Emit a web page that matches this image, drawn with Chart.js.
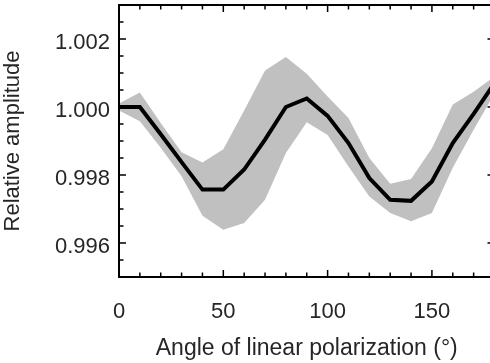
<!DOCTYPE html>
<html>
<head>
<meta charset="utf-8">
<script src="https://cdn.jsdelivr.net/npm/chart.js@4/dist/chart.umd.min.js"></script>
<style>
  html, body { margin: 0; padding: 0; background: #fff; overflow: hidden; width: 490px; height: 363px; }
  #wrap { width: 496px; height: 363px; position: relative; }
</style>
</head>
<body>
<div id="wrap"><canvas id="c" width="496" height="363"></canvas></div>
<script>
// Data
const angles = [0, 10, 20, 30, 40, 50, 60, 70, 80, 90, 100, 110, 120, 130, 140, 150, 160, 170, 180];
const meanAmp = [1.0000, 1.0000, 0.99920, 0.99838, 0.99757, 0.99757, 0.99816, 0.99904, 1.0000, 1.00025, 0.99974, 0.99894, 0.99791, 0.99727, 0.99724, 0.99781, 0.99894, 0.99980, 1.00070];
const upperAmp = [1.00010, 1.00043, 0.99953, 0.99867, 0.99837, 0.99876, 0.99990, 1.00107, 1.00147, 1.00098, 1.00031, 0.99968, 0.99850, 0.99774, 0.99788, 0.99879, 1.00007, 1.00045, 1.00090];
const lowerAmp = [0.99990, 0.99958, 0.99880, 0.99796, 0.99680, 0.99639, 0.99659, 0.99727, 0.99865, 0.99955, 0.99918, 0.99825, 0.99737, 0.99688, 0.99664, 0.99688, 0.99821, 0.99933, 1.00040];
const xTicks = [0, 50, 100, 150];
const yTicks = [0.996, 0.998, 1.000, 1.002];
const xRange = [0, 180];
const yRange = [0.995, 1.003];
const xMinorStep = 10;
const yMinorStep = 0.0005;

const pts = arr => angles.map((a, i) => ({ x: a, y: arr[i] }));
const FONT = "'Liberation Sans', Arial, Helvetica, sans-serif";
const TEXT = '#262626';

const framePlugin = {
  id: 'frame',
  afterDraw(chart) {
    const { ctx, chartArea: a, scales: { x, y } } = chart;
    ctx.save();
    ctx.strokeStyle = '#000';
    ctx.lineWidth = 1.5;
    const major = 7, minor = 4.5;
    ctx.beginPath();
    for (let v = xRange[0]; v <= xRange[1] + 1e-9; v += xMinorStep) {
      const px = x.getPixelForValue(v);
      const len = xTicks.includes(Math.round(v)) ? major : minor;
      ctx.moveTo(px, a.bottom); ctx.lineTo(px, a.bottom - len);
      ctx.moveTo(px, a.top); ctx.lineTo(px, a.top + len);
    }
    const n = Math.round((yRange[1] - yRange[0]) / yMinorStep);
    for (let k = 0; k <= n; k++) {
      const v = yRange[0] + k * yMinorStep;
      const py = y.getPixelForValue(v);
      const isMajor = yTicks.some(t => Math.abs(t - v) < 1e-7);
      const len = isMajor ? major : minor;
      ctx.moveTo(a.left, py); ctx.lineTo(a.left + len, py);
      ctx.moveTo(a.right, py); ctx.lineTo(a.right - len, py);
    }
    ctx.stroke();
    ctx.lineWidth = 2;
    ctx.strokeRect(a.left, a.top, a.right - a.left, a.bottom - a.top);
    ctx.restore();
  }
};

const zeroPad = s => { s.paddingTop = 0; s.paddingBottom = 0; s.paddingLeft = 0; s.paddingRight = 0; };

new Chart(document.getElementById('c'), {
  type: 'line',
  data: {
    datasets: [
      { data: pts(lowerAmp), borderWidth: 0, borderColor: 'rgba(0,0,0,0)', pointRadius: 0, fill: false, order: 2 },
      { data: pts(upperAmp), borderWidth: 0, borderColor: 'rgba(0,0,0,0)', pointRadius: 0, fill: '-1', backgroundColor: '#c0c0c0', order: 1 },
      { data: pts(meanAmp), borderWidth: 4, borderColor: '#000', pointRadius: 0, fill: false, order: -1 }
    ]
  },
  options: {
    responsive: false,
    animation: false,
    events: [],
    layout: { padding: { top: 5, right: 1.5, left: 0, bottom: 0 } },
    plugins: { legend: { display: false }, tooltip: { enabled: false } },
    elements: { line: { tension: 0 } },
    scales: {
      x: {
        type: 'linear', min: xRange[0], max: xRange[1],
        grid: { display: false, drawTicks: false },
        border: { display: false },
        afterBuildTicks: s => { s.ticks = xTicks.map(v => ({ value: v })); },
        afterFit: s => { s.height = 86; zeroPad(s); },
        ticks: { color: TEXT, font: { family: FONT, size: 22 }, padding: 22, maxRotation: 0, autoSkip: false },
        title: { display: true, text: 'Angle of linear polarization (°)', color: TEXT, font: { family: FONT, size: 23 }, padding: { top: 0, bottom: 1 } }
      },
      y: {
        type: 'linear', min: yRange[0], max: yRange[1],
        grid: { display: false, drawTicks: false },
        border: { display: false },
        afterBuildTicks: s => { s.ticks = yTicks.map(v => ({ value: v })); },
        afterFit: s => { s.width = 119; zeroPad(s); },
        ticks: { color: TEXT, font: { family: FONT, size: 22 }, padding: 9, labelOffset: 4, autoSkip: false, callback: v => v.toFixed(3) },
        title: { display: true, text: 'Relative amplitude', color: TEXT, font: { family: FONT, size: 22 }, padding: { top: 0, bottom: 0 } }
      }
    }
  },
  plugins: [framePlugin]
});
</script>
</body>
</html>
